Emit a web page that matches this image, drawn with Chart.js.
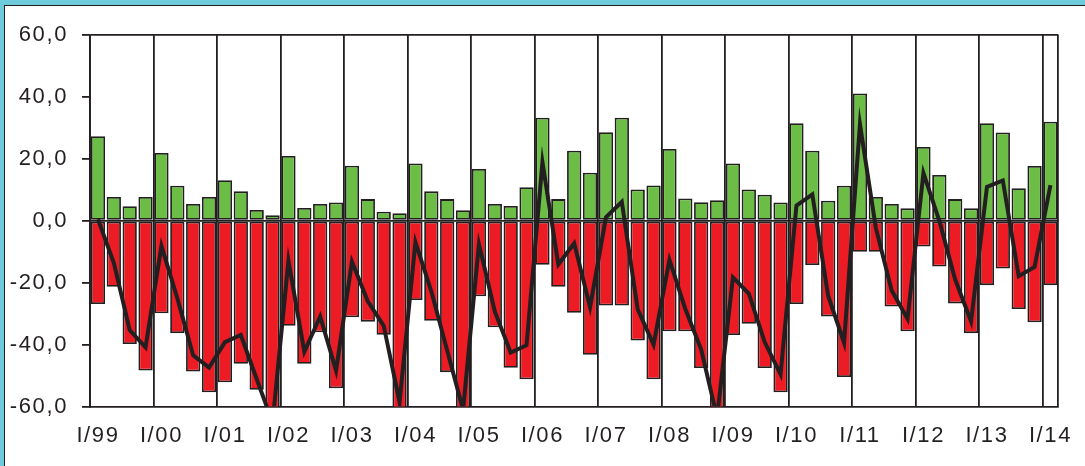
<!DOCTYPE html>
<html>
<head>
<meta charset="utf-8">
<script src="https://cdn.jsdelivr.net/npm/chart.js@4/dist/chart.umd.min.js"></script>
<style>
  html, body { margin: 0; padding: 0; background: #ffffff; }
  #wrap { position: relative; width: 1085px; height: 466px; overflow: hidden; background: #ffffff; }
  #chart { position: absolute; left: 0; top: 0; }
  .frame { position: absolute; left: 0; top: 0; width: 1085px; height: 466px; box-sizing: border-box;
           border-top: 5px solid #6dcbdc; border-left: 4px solid #6dcbdc; pointer-events: none; }
  .frame-inner { position: absolute; left: 4px; top: 5px; right: 0; bottom: 0;
                 border-top: 1.5px solid #231f20; border-left: 1.5px solid #231f20; pointer-events: none; }
</style>
</head>
<body>
<div id="wrap">
  <canvas id="chart" width="1085" height="466"></canvas>
  <div class="frame"></div>
  <div class="frame-inner"></div>
</div>
<script>
// Quarters I/99 .. I/14
const quarters = [
  'I/99','II/99','III/99','IV/99','I/00','II/00','III/00','IV/00',
  'I/01','II/01','III/01','IV/01','I/02','II/02','III/02','IV/02',
  'I/03','II/03','III/03','IV/03','I/04','II/04','III/04','IV/04',
  'I/05','II/05','III/05','IV/05','I/06','II/06','III/06','IV/06',
  'I/07','II/07','III/07','IV/07','I/08','II/08','III/08','IV/08',
  'I/09','II/09','III/09','IV/09','I/10','II/10','III/10','IV/10',
  'I/11','II/11','III/11','IV/11','I/12','II/12','III/12','IV/12',
  'I/13','II/13','III/13','IV/13','I/14'
];

// Positive flows (green bars)
const positives = [
  27.3, 7.7, 4.7, 7.7, 21.9, 11.3, 5.4, 7.7,
  13.1, 9.5, 3.5, 1.8, 20.9, 4.1, 5.4, 5.9,
  17.8, 7.0, 2.9, 2.4, 18.5, 9.5, 7.0, 3.4,
  16.7, 5.4, 4.8, 10.8, 33.3, 7.0, 22.6, 15.5,
  28.6, 33.3, 10.1, 11.4, 23.2, 7.2, 6.0, 6.6,
  18.5, 10.1, 8.4, 5.9, 31.5, 22.6, 6.5, 11.3,
  41.1, 7.7, 5.4, 4.0, 23.8, 14.8, 7.0, 4.0,
  31.5, 28.5, 10.5, 17.7, 32.0
];

// Negative flows (red bars)
const negatives = [
  -26.9, -21.3, -39.8, -48.4, -29.9, -36.3, -48.7, -55.4,
  -52.2, -46.2, -54.6, -67.0, -33.9, -46.2, -36.0, -54.1,
  -31.2, -32.6, -36.8, -61.0, -25.6, -32.3, -48.9, -64.5,
  -24.4, -34.4, -47.5, -51.2, -14.2, -21.3, -29.7, -43.3,
  -27.4, -27.4, -38.7, -51.2, -35.7, -35.7, -47.6, -70.0,
  -36.9, -33.3, -47.6, -55.4, -26.9, -14.3, -30.9, -50.5,
  -10.0, -10.0, -27.7, -35.7, -8.3, -14.8, -26.7, -36.3,
  -20.8, -15.4, -28.5, -32.8, -20.8
];

// Net balance (black line)
const balance = [
  0.5, -13.6, -35.3, -40.9, -8.1, -25.0, -43.5, -47.4,
  -39.2, -36.9, -51.1, -65.2, -12.9, -42.3, -30.9, -48.4,
  -13.2, -26.0, -33.9, -58.6, -6.9, -22.8, -41.9, -61.1,
  -7.5, -29.3, -42.6, -40.2, 18.9, -14.1, -7.3, -27.9,
  1.1, 6.1, -28.6, -40.0, -12.6, -28.5, -41.6, -63.5,
  -18.3, -23.5, -39.2, -49.6, 4.9, 8.5, -24.3, -39.4,
  31.2, -2.3, -22.5, -31.7, 15.4, 0.0, -19.0, -32.5,
  10.9, 13.0, -17.9, -14.9, 11.5
];

// Value axis ticks
const yTickValues = [-60, -40, -20, 0, 20, 40, 60];

const INK = '#231f20';
const GREEN = '#6bbd45';
const RED = '#ed1c24';
const FONT = { family: "'Liberation Sans', Arial, sans-serif", size: 22 };

const textSpacing = {
  id: 'textSpacing',
  beforeDraw(chart) { chart.ctx.letterSpacing = '1.6px'; }
};

new Chart(document.getElementById('chart'), {
  data: {
    labels: quarters,
    datasets: [
      {
        type: 'line', data: balance, order: 0,
        borderColor: INK, borderWidth: 4, pointRadius: 0, tension: 0,
        borderJoinStyle: 'miter', fill: false
      },
      {
        type: 'bar', data: positives, order: 1, grouped: false,
        backgroundColor: GREEN, borderColor: INK, borderWidth: 1.8, borderSkipped: false,
        categoryPercentage: 1.0, barPercentage: 0.9
      },
      {
        type: 'bar', data: negatives, order: 2, grouped: false,
        backgroundColor: RED, borderColor: INK, borderWidth: 1.8, borderSkipped: false,
        categoryPercentage: 1.0, barPercentage: 0.9
      }
    ]
  },
  options: {
    responsive: false,
    animation: false,
    devicePixelRatio: 1,
    layout: { padding: { left: 0, right: 25, top: 35, bottom: 0 } },
    plugins: { legend: { display: false }, tooltip: { enabled: false }, title: { display: false } },
    scales: {
      x: {
        type: 'category',
        offset: true,
        grid: {
          offset: true,
          drawTicks: false,
          lineWidth: 1.8,
          color: (ctx) => (ctx.type !== 'tick' || ctx.index % 4 === 0) ? INK : 'rgba(0,0,0,0)'
        },
        border: { display: true, color: INK, width: 1.8 },
        ticks: {
          autoSkip: false, maxRotation: 0, minRotation: 0, padding: 16,
          color: INK, font: FONT,
          callback: (v, i) => (i % 4 === 0 ? quarters[i] : '')
        },
        afterFit: (scale) => { scale.height = 59.5; }
      },
      y: {
        min: -60, max: 60,
        afterBuildTicks: (scale) => { scale.ticks = yTickValues.map(v => ({ value: v })); },
        grid: {
          drawTicks: true, tickLength: 8, lineWidth: 1.8,
          tickColor: INK,
          color: (ctx) => (ctx.tick && (ctx.tick.value === 0 || ctx.tick.value === 60)) ? INK : 'rgba(0,0,0,0)'
        },
        border: { display: true, color: INK, width: 1.8 },
        ticks: {
          padding: 14, color: INK, font: FONT,
          callback: (v) => Number(v).toFixed(1).replace('.', ',')
        },
        afterFit: (scale) => { scale.width = 90; }
      }
    }
  },
  plugins: [textSpacing]
});
</script>
</body>
</html>
